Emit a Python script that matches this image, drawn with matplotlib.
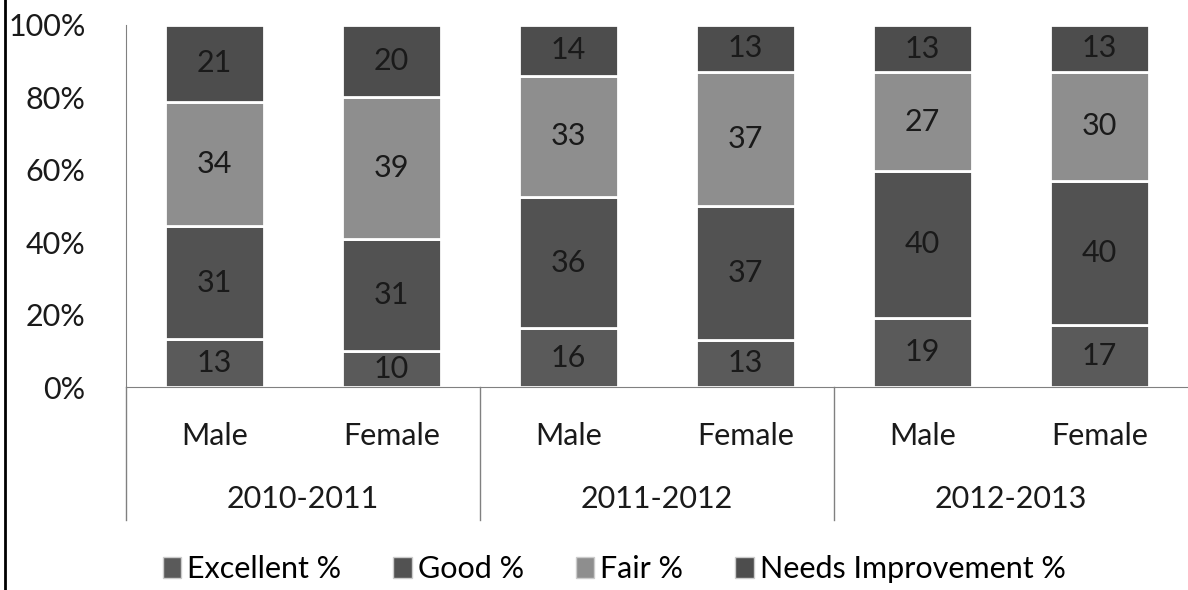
import matplotlib
matplotlib.use("Agg")
from matplotlib import pyplot as plt
from matplotlib.lines import Line2D
from matplotlib.patches import Patch
import numpy as np

years = ['2010-2011', '2011-2012', '2012-2013']
genders = ['Male', 'Female', 'Male', 'Female', 'Male', 'Female']

excellent = [13, 10, 16, 13, 19, 17]
good = [31, 31, 36, 37, 40, 40]
fair = [34, 39, 33, 37, 27, 30]
needs = [21, 20, 14, 13, 13, 13]

series = [
    ('Excellent %', excellent, '#5a5a5a'),
    ('Good %', good, '#525252'),
    ('Fair %', fair, '#8e8e8e'),
    ('Needs Improvement %', needs, '#4d4d4d'),
]

plt.rcParams['font.family'] = ['Lato', 'DejaVu Sans']
FS = 22

fig = plt.figure(figsize=(11.88, 5.9), dpi=100)
ax = fig.add_axes([0.106, 0.344, 0.894, 0.614])

x = np.arange(len(genders))
totals = np.sum([s[1] for s in series], axis=0)
bottom = np.zeros(len(genders))
for name, vals, col in series:
    share = np.array(vals) / totals
    ax.bar(x, share, 0.56, bottom=bottom, color=col, edgecolor='white',
           linewidth=2, label=name)
    for xi, b, h, v in zip(x, bottom, share, vals):
        ax.text(xi, b + h / 2, str(v), ha='center', va='center',
                fontsize=FS, color='#1a1a1a')
    bottom = bottom + share

ax.set_xlim(-0.5, 5.5)
ax.set_ylim(0, 1)
ax.set_yticks(np.linspace(0, 1, 6))
ax.set_yticklabels([f'{int(v * 100)}%' for v in np.linspace(0, 1, 6)])
ax.set_xticks(x)
ax.set_xticklabels(genders)
ax.tick_params(axis='both', length=0, labelsize=FS, colors='#1a1a1a')
ax.tick_params(axis='x', pad=25)
ax.tick_params(axis='y', pad=29)

for sp in ['top', 'right']:
    ax.spines[sp].set_visible(False)
ax.spines['left'].set_color('#808080')
ax.spines['bottom'].set_color('#808080')

# group separators and year labels
trans = ax.get_xaxis_transform()
for xs in [-0.5, 1.5, 3.5]:
    ax.plot([xs, xs], [0, -0.367], color='#808080', lw=1,
            transform=trans, clip_on=False)
for i, yr in enumerate(years):
    ax.text(2 * i + 0.5, -0.31, yr, ha='center', va='center', fontsize=FS,
            color='#1a1a1a', transform=trans)

# left border
fig.add_artist(Line2D([0.004, 0.004], [0, 1], color='black', lw=2,
                      transform=fig.transFigure))

handles = [Patch(facecolor=c, edgecolor='#cccccc', label=n) for n, _, c in series]
fig.legend(handles=handles, loc='center', bbox_to_anchor=(0.517, 0.035),
           ncol=4, frameon=False, fontsize=FS, handlelength=0.6,
           handleheight=0.7, handletextpad=0.2, columnspacing=1.7)

fig.savefig('out.png', dpi=100)
